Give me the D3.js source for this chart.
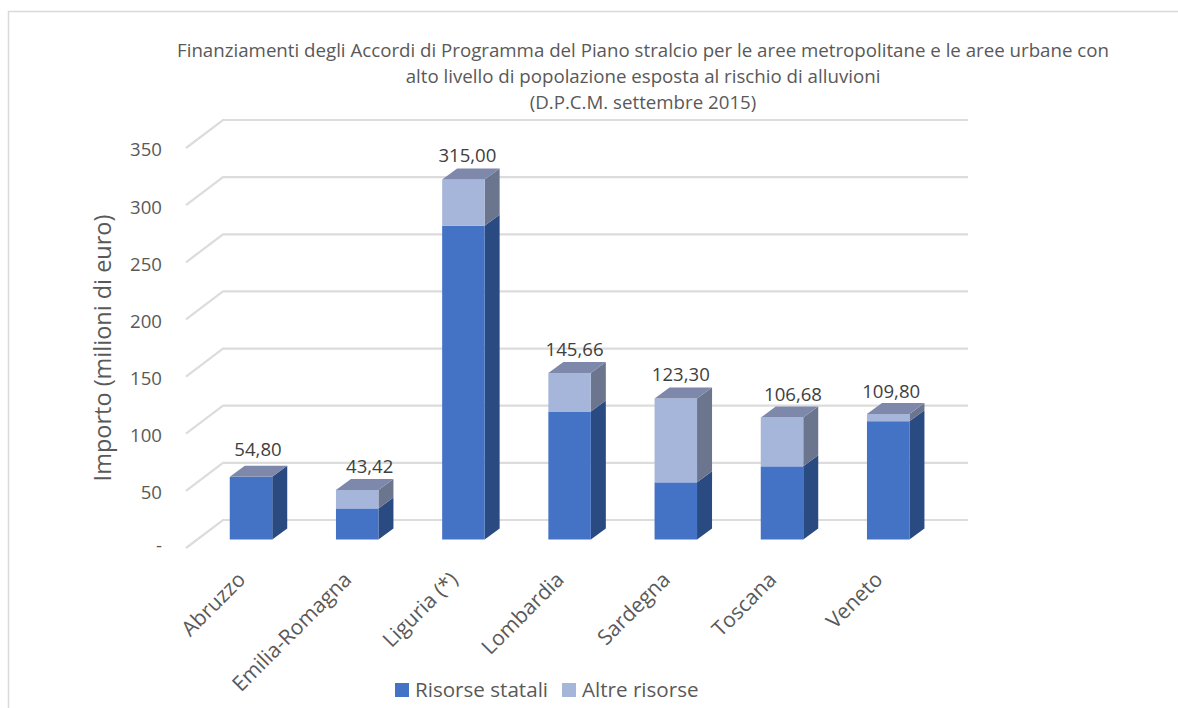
<!DOCTYPE html>
<html>
<head>
<meta charset="utf-8">
<script src="https://cdn.jsdelivr.net/npm/d3@7"></script>
<style>
  html, body { margin: 0; padding: 0; background: #fff; overflow: hidden; }
  text { font-family: "Open Sans", sans-serif; fill: #595959; }
  .domain { display: none; }
  .tick line { display: none; }
</style>
</head>
<body>
<svg id="canvas" width="1178" height="708"></svg>
<script>
const regions = ['Abruzzo', 'Emilia-Romagna', 'Liguria (*)', 'Lombardia', 'Sardegna', 'Toscana', 'Veneto']
const statali = [54.8, 27.2, 274.6, 112, 50, 64, 103.5]
const altre = [0, 16.22, 40.4, 33.66, 73.3, 42.68, 6.3]
const totali = ['54,80', '43,42', '315,00', '145,66', '123,30', '106,68', '109,80']
const yTicks = [0, 50, 100, 150, 200, 250, 300, 350]
const titleLines = [
    'Finanziamenti degli Accordi di Programma del Piano stralcio per le aree metropolitane e le aree urbane con',
    'alto livello di popolazione esposta al rischio di alluvioni',
    '(D.P.C.M. settembre 2015)'
]
// hand placed data labels in the original, offsets from the bar centre / top
const labelDx = [7, 12.5, 4, 5, 5, 11, 3]
const labelDy = [-21, -17, -17.5, -17, -18, -16.5, -16]

let canvas = d3.select('#canvas')

// frame, only top and left edges are in the picture
canvas.append('path')
    .attr('d', 'M8.5,708V11.5H1178')
    .attr('fill', 'none')
    .attr('stroke', '#d9d9d9')
    .attr('stroke-width', 1.5)

// 3d offsets
const wallX = 37, wallY = -28
const barX = 15, barY = -11

let x = d3.scaleBand().domain(regions).range([197.9, 941.3]).paddingInner(0.6).paddingOuter(0.3)
let y = d3.scaleLinear().domain([0, 350]).range([548, 148])
let barBase = 539.5

// title
canvas.append('g').selectAll('text')
    .data(titleLines)
    .enter()
    .append('text')
    .attr('x', 643)
    .attr('y', (d, i) => 57 + i * 26)
    .attr('text-anchor', 'middle')
    .attr('font-size', 18.7)
    .text(d => d)

// gridlines: side part then back wall
let grid = canvas.append('g')
grid.selectAll('path')
    .data(yTicks)
    .enter()
    .append('path')
    .attr('d', d => {
        let py = y(d)
        return 'M186,' + py + 'L' + (186 + wallX) + ',' + (py + wallY) + 'H968'
    })
    .attr('fill', 'none')
    .attr('stroke', '#dcdcdc')
    .attr('stroke-width', 2.2)

// y axis
canvas.append('g')
    .attr('transform', 'translate(168,2)')
    .call(d3.axisLeft(y).tickValues(yTicks).tickSize(0).tickPadding(6)
        .tickFormat(d => d === 0 ? '-' : d))
    .selectAll('text')
    .attr('font-size', 18.6)
    .attr('font-family', '"Open Sans", sans-serif')
    .attr('y', d => d === 0 ? -4 : 0)

canvas.append('text')
    .attr('transform', 'translate(111,348) rotate(-90)')
    .attr('text-anchor', 'middle')
    .attr('font-size', 23.5)
    .text('Importo (milioni di euro)')

// stacked bars
const scale = (y(0) - y(1))
let drawSegment = (g, left, w, bottom, top, front, side, topFace) => {
    g.append('path')
        .attr('d', 'M' + (left + w) + ',' + bottom + 'l' + barX + ',' + barY + 'V' + (top + barY) + 'L' + (left + w) + ',' + top + 'Z')
        .attr('fill', side)
    g.append('rect')
        .attr('x', left).attr('y', top)
        .attr('width', w).attr('height', bottom - top)
        .attr('fill', front)
    if (topFace) {
        g.append('path')
            .attr('d', 'M' + left + ',' + top + 'l' + barX + ',' + barY + 'h' + w + 'l' + (-barX) + ',' + (-barY) + 'Z')
            .attr('fill', topFace)
    }
}

let bars = canvas.append('g')
regions.forEach((r, i) => {
    let left = x(r)
    let w = x.bandwidth()
    let split = barBase - statali[i] * scale
    let top = split - altre[i] * scale
    let g = bars.append('g')
    drawSegment(g, left, w, barBase, split, '#4472c4', '#2a4a82', altre[i] > 0 ? null : '#7d88ab')
    if (altre[i] > 0) {
        drawSegment(g, left, w, split, top, '#a6b5da', '#6b758d', '#7d88ab')
    }
    g.append('text')
        .attr('x', left + w / 2 + labelDx[i])
        .attr('y', top + labelDy[i])
        .attr('text-anchor', 'middle')
        .attr('font-size', 18.6)
        .style('fill', '#404040')
        .text(totali[i])
})

// category labels
canvas.append('g').selectAll('text')
    .data(regions)
    .enter()
    .append('text')
    .attr('transform', d => 'translate(' + (x(d) + 8) + ',572) rotate(-45)')
    .attr('text-anchor', 'end')
    .attr('dy', '0.6em')
    .attr('font-size', 21)
    .text(d => d)

// legend
const legendItems = [
    { name: 'Risorse statali', color: '#4472c4', sx: 395, tx: 415 },
    { name: 'Altre risorse', color: '#a6b5da', sx: 562, tx: 582 }
]
let legend = canvas.selectAll('.legend')
    .data(legendItems)
    .enter()
    .append('g')
    .attr('class', 'legend')
legend.append('rect')
    .attr('x', d => d.sx).attr('y', 683)
    .attr('width', 14).attr('height', 14)
    .attr('fill', d => d.color)
legend.append('text')
    .attr('x', d => d.tx).attr('y', 697)
    .attr('font-size', 20.6)
    .text(d => d.name)
</script>
</body>
</html>
